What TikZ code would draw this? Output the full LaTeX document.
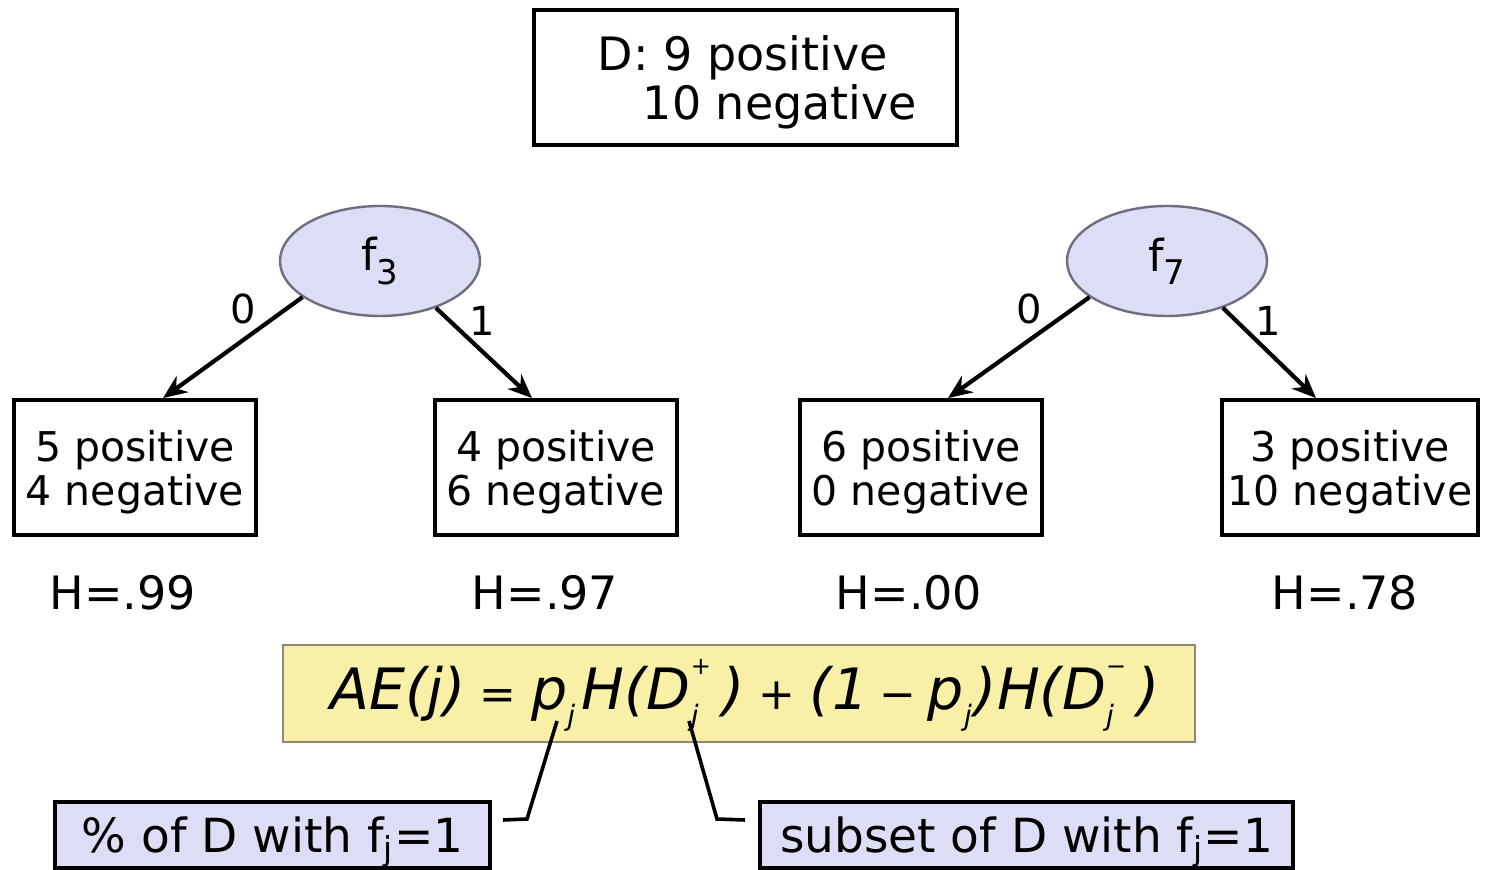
\documentclass[tikz,border=0pt]{standalone}
\usepackage{fontspec}
\setmainfont{DejaVu Sans}
\usetikzlibrary{arrows.meta,shapes.geometric}
\definecolor{lav}{HTML}{DDDDF6}
\definecolor{lavedge}{HTML}{6E6E7E}
\definecolor{yel}{HTML}{F8F0A6}
\definecolor{yeledge}{HTML}{8A8A7A}
\newcommand\mysub[1]{\raisebox{-0.28em}{\fontsize{14}{14}\selectfont #1}}
\newcommand\mysubsup[2]{\makebox[0.55em][l]{\rlap{\raisebox{0.62em}{\fontsize{12}{12}\selectfont\upshape #2}}\raisebox{-0.28em}{\fontsize{14}{14}\selectfont #1}}}
\newcommand\opsym[2]{\kern#1{\fontsize{22}{22}\selectfont\upshape #2}\kern#1}
\newcommand\mydrop[2]{\raisebox{-#1}[\height][\depth]{#2}}
\begin{document}
\begin{tikzpicture}[x=0.5pt,y=-0.5pt,
  leaf/.style={draw,line width=1.9pt,minimum width=121pt,minimum height=67.5pt,inner sep=0pt,font=\fontsize{20.5}{21.5}\selectfont},
  feat/.style={ellipse,draw=lavedge,line width=1.2pt,fill=lav,minimum width=100pt,minimum height=55pt,inner sep=0pt,font=\fontsize{22}{24}\selectfont},
  edge/.style={line width=2.1pt,-{Stealth[length=12pt,width=10pt]}},
  elab/.style={font=\fontsize{20}{22}\selectfont,inner sep=0pt},
  hlab/.style={font=\fontsize{23}{25}\selectfont,inner sep=0pt},
  note/.style={draw,line width=1.9pt,fill=lav,inner sep=0pt},
  conn/.style={line width=1.8pt}]
\useasboundingbox (0,0) rectangle (1489,870);
\fill[white] (0,0) rectangle (1489,870);

% root box
\node[draw,line width=1.9pt,minimum width=211.5pt,minimum height=67.5pt,inner sep=0pt,font=\fontsize{23}{24}\selectfont] (root) at (745.5,77.5)
  {\mydrop{3.5pt}{\begin{tabular}{@{}l@{}}\hspace*{12pt}D: 9 positive\\\hspace*{12pt}\hspace*{0.98em}10 negative\end{tabular}}};

% features
\node[feat] (f3) at (380,261) {f\raisebox{-0.3em}{\fontsize{17}{17}\selectfont 3}};
\node[feat] (f7) at (1167,261) {f\raisebox{-0.3em}{\fontsize{17}{17}\selectfont 7}};

% leaves
\node[leaf] (b1) at (135,467.5) {\mydrop{3.5pt}{\begin{tabular}{@{}c@{}}5 positive\\4 negative\end{tabular}}};
\node[leaf] (b2) at (556,467.5) {\mydrop{3.5pt}{\begin{tabular}{@{}c@{}}4 positive\\6 negative\end{tabular}}};
\node[leaf] (b3) at (921,467.5) {\mydrop{3.5pt}{\begin{tabular}{@{}c@{}}6 positive\\0 negative\end{tabular}}};
\node[leaf,minimum width=128pt] (b4) at (1350,467.5) {\mydrop{3.5pt}{\begin{tabular}{@{}c@{}}3 positive\\10 negative\end{tabular}}};

% edges
\draw[edge] (f3.-155) -- (b1.north -| 163,0);
\draw[edge] (f3.-40) -- (b2.north -| 532,0);
\draw[edge] (f7.-155) -- (b3.north -| 948,0);
\draw[edge] (f7.-40) -- (b4.north -| 1316,0);
\node[elab] (l30) at (243,309) {0};
\node[elab] (l31) at (482,321) {1};
\node[elab] (l70) at (1029,309) {0};
\node[elab] (l71) at (1268,321) {1};

% entropies
\node[hlab] (h1) at (123,593) {H=.99};
\node[hlab] (h2) at (545,593) {H=.97};
\node[hlab] (h3) at (909,593) {H=.00};
\node[hlab] (h4) at (1345,593) {H=.78};

% formula
\node[draw=yeledge,line width=1.3pt,fill=yel,minimum width=456pt,minimum height=48.5pt,inner sep=0pt,font=\fontsize{28.5}{30}\selectfont\itshape] (ae) at (739,693.5)
  {\mydrop{1pt}{\hspace*{6pt}AE(j)\opsym{0.25em}{=}p\mysub{j}\kern0.12em H(D\mysubsup{j}{+})\opsym{0.25em}{+}(1\opsym{0.2em}{−}p\mysub{j}\kern0.05em)H(D\mysubsup{j}{−})}};

% notes
\node[note,minimum width=217.5pt,minimum height=33pt,font=\fontsize{23.5}{25}\selectfont] (pct) at (272.5,835) {\mydrop{3.5pt}{\% of D with f\textsubscript{j}=1}};
\node[note,minimum width=266.5pt,minimum height=33pt,font=\fontsize{23.5}{25}\selectfont] (sub) at (1026.5,835) {\mydrop{3.5pt}{subset of D with f\textsubscript{j}=1}};

\coordinate (pj) at (557,721);
\coordinate (dj) at (689,721);
\coordinate (pjb) at (527,819);
\coordinate (djb) at (717,819);
\coordinate (pje) at (503,820);
\coordinate (dje) at (745,820);
\draw[conn] (pj) -- (pjb) -- (pje);
\draw[conn] (dj) -- (djb) -- (dje);
\end{tikzpicture}
\end{document}
